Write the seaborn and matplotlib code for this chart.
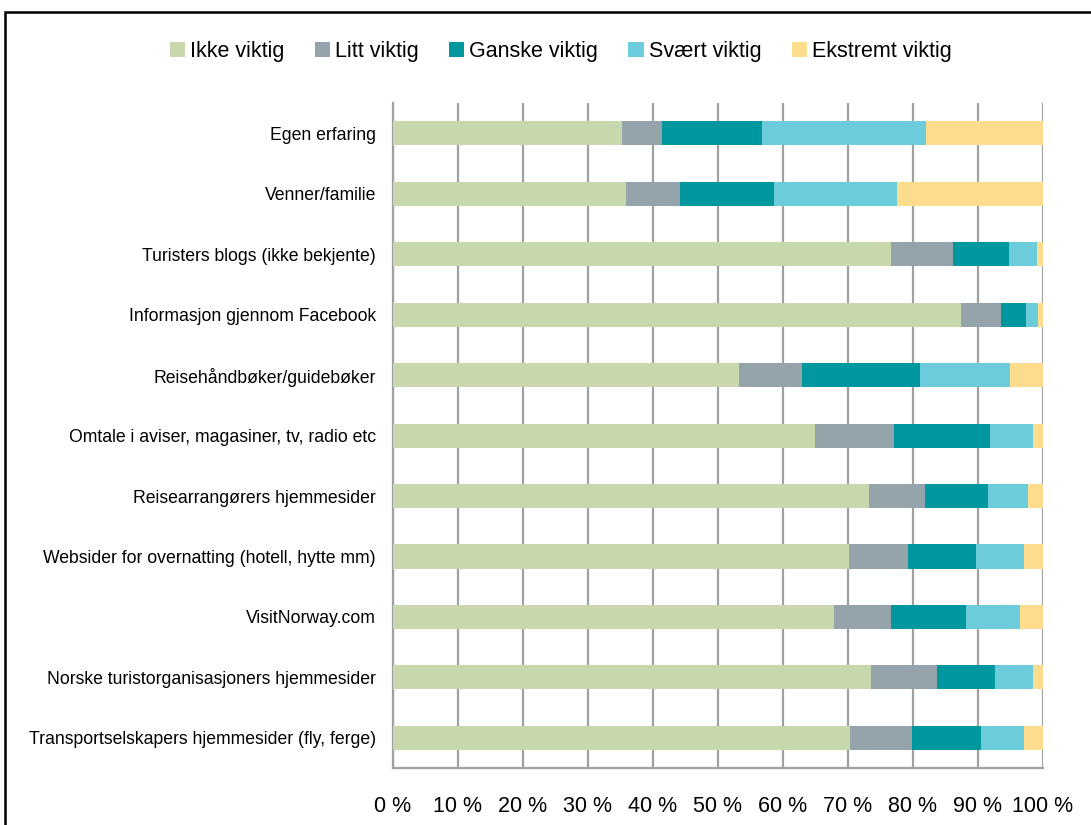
import pandas as pd
import matplotlib.pyplot as plt
import seaborn as sns
from matplotlib import font_manager
from matplotlib.patches import Rectangle, Patch

# categories, top to bottom
kilder = ['Egen erfaring', 'Venner/familie', 'Turisters blogs (ikke bekjente)',
          'Informasjon gjennom Facebook', 'Reisehåndbøker/guidebøker',
          'Omtale i aviser, magasiner, tv, radio etc', 'Reisearrangørers hjemmesider',
          'Websider for overnatting (hotell, hytte mm)', 'VisitNorway.com',
          'Norske turistorganisasjoners hjemmesider',
          'Transportselskapers hjemmesider (fly, ferge)']

ikke_viktig = [35.3, 35.8, 76.6, 87.4, 53.3, 65.0, 73.3, 70.1, 67.9, 73.6, 70.3]
litt_viktig = [6.1, 8.3, 9.6, 6.1, 9.7, 12.1, 8.5, 9.2, 8.8, 10.1, 9.5]
ganske_viktig = [15.4, 14.5, 8.6, 3.9, 18.1, 14.8, 9.8, 10.4, 11.5, 8.9, 10.7]
svaert_viktig = [25.2, 19.0, 4.3, 1.8, 13.8, 6.5, 6.1, 7.4, 8.2, 5.8, 6.6]
ekstremt_viktig = [18.0, 22.4, 0.9, 0.8, 5.1, 1.6, 2.3, 2.9, 3.6, 1.6, 2.9]

serier = ['Ikke viktig', 'Litt viktig', 'Ganske viktig', 'Svært viktig', 'Ekstremt viktig']
farger = ['#C9D7AD', '#94A4AA', '#00989E', '#6DCCDC', '#FEDC8E']
x_labels = [f'{v} %' for v in range(0, 101, 10)]

df = pd.DataFrame({'kilde': kilder, 'Ikke viktig': ikke_viktig, 'Litt viktig': litt_viktig,
                   'Ganske viktig': ganske_viktig, 'Svært viktig': svaert_viktig,
                   'Ekstremt viktig': ekstremt_viktig})
df = df.set_index('kilde')
# normalise to 100 % and build cumulative sums for stacking
df = df.div(df.sum(axis=1), axis=0) * 100
cum = df.cumsum(axis=1).reset_index()

sns.set_style('white')
names = {f.name for f in font_manager.fontManager.ttflist}
fam = 'Liberation Sans Narrow' if 'Liberation Sans Narrow' in names else 'Liberation Sans'
plt.rcParams['font.family'] = [fam, 'DejaVu Sans']
plt.rcParams['text.color'] = 'black'
plt.rcParams['xtick.labelcolor'] = 'black'
plt.rcParams['ytick.labelcolor'] = 'black'

fig = plt.figure(figsize=(10.91, 8.25), dpi=100)
ax = fig.add_axes([0.360, 0.069, 0.596, 0.806])

# draw from the longest cumulative bar down so each series shows on top of the next
for serie, farge in reversed(list(zip(serier, farger))):
    sns.barplot(data=cum, y='kilde', x=serie, color=farge, width=0.4,
                orient='h', ax=ax, saturation=1, linewidth=0, zorder=3)

ax.set_xlim(0, 100)
ax.set_ylim(len(kilder) - 0.5, -0.5)
ax.set_xticks(range(0, 101, 10))
ax.set_xticklabels(x_labels, fontsize=15.5)
ax.set_yticks(range(len(kilder)))
ax.set_yticklabels(kilder, fontsize=12.7)
ax.set_xlabel('')
ax.set_ylabel('')
ax.grid(axis='x', color='#A0A0A0', linewidth=1.6, zorder=0)
ax.set_axisbelow(True)

for s in ['top', 'right']:
    ax.spines[s].set_visible(False)
for s in ['left', 'bottom']:
    ax.spines[s].set_color('#A0A0A0')
    ax.spines[s].set_linewidth(1.6)

# y tick marks sit between categories, labels at centres
ax.tick_params(axis='y', length=0, pad=12)
ax.set_yticks([i + 0.5 for i in range(-1, len(kilder))], minor=True)
ax.tick_params(axis='y', which='minor', length=5, color='#A0A0A0', width=1.6)
ax.tick_params(axis='x', length=6, color='#A0A0A0', width=1.6, pad=14)

handles = [Patch(facecolor=c, edgecolor='none') for c in farger]
fig.legend(handles, serier, loc='center', bbox_to_anchor=(0.514, 0.937), ncol=5,
           frameon=False, fontsize=15.5, handlelength=0.7, handleheight=0.7,
           handletextpad=0.25, columnspacing=1.4)

fig.add_artist(Rectangle((5 / 1091, -0.01), 1.02, 1.01 - 12 / 825, transform=fig.transFigure,
                         fill=False, edgecolor='black', linewidth=1.8))

fig.savefig('out.png', dpi=100)
